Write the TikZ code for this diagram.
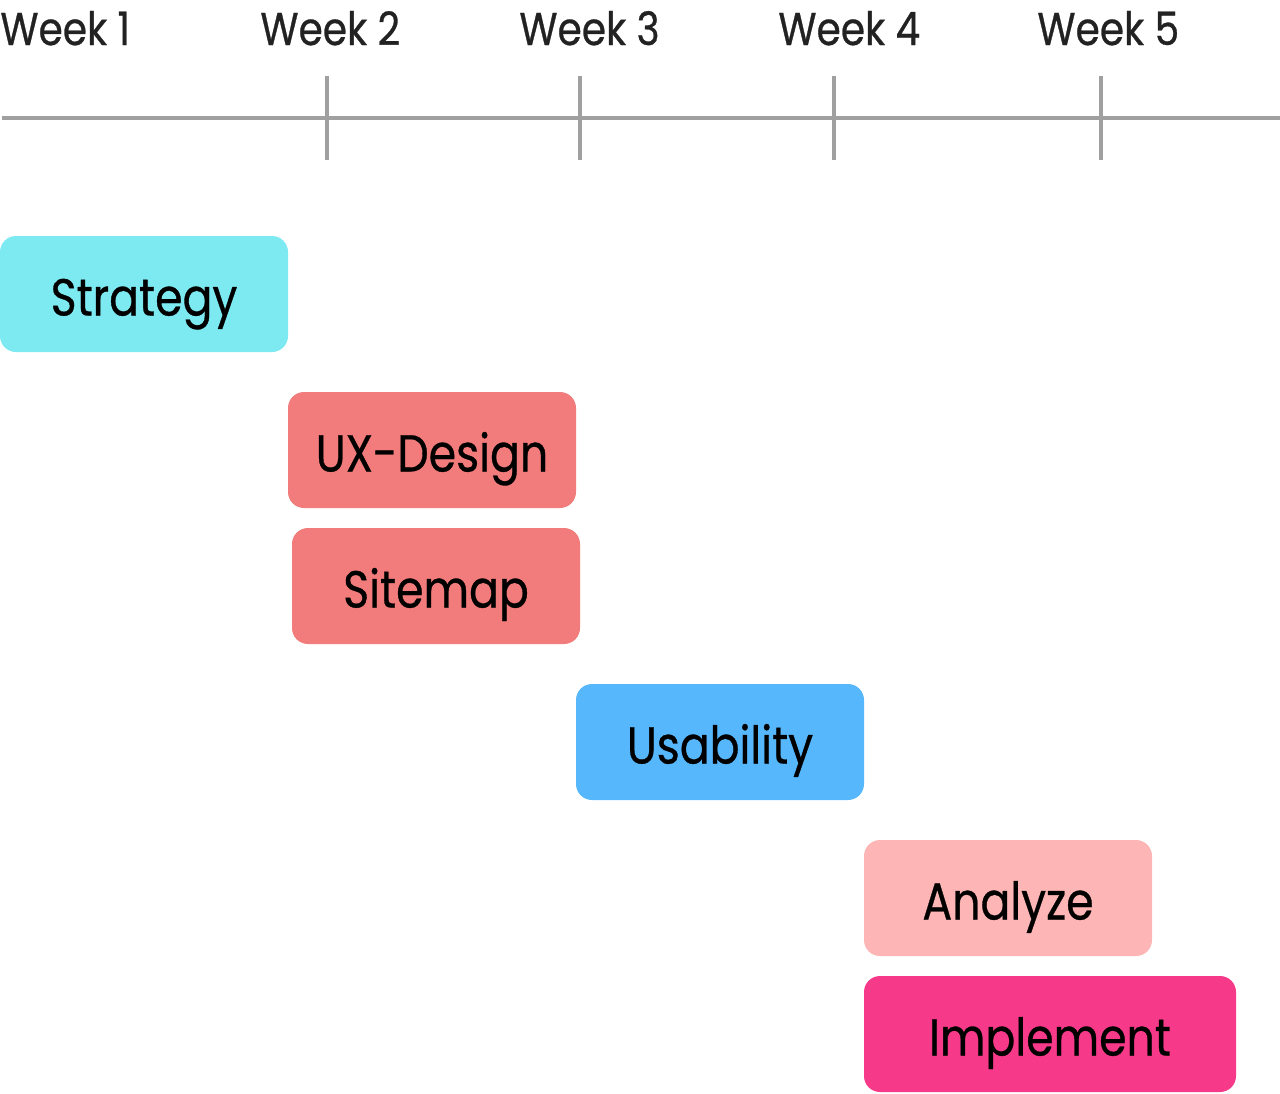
\documentclass[tikz,border=0pt]{standalone}
\usepackage{fontspec}
\setmainfont{Poppins}[FakeStretch=0.85, FakeBold=0.6]
\usepackage{tikz}
\usetikzlibrary{positioning}
\definecolor{SC}{RGB}{125,234,242}
\definecolor{RD}{RGB}{242,123,123}
\definecolor{UB}{RGB}{87,183,253}
\definecolor{PK}{RGB}{253,181,181}
\definecolor{MG}{RGB}{247,57,137}
\definecolor{AX}{RGB}{160,160,160}
\definecolor{WT}{RGB}{34,34,34}
\tikzset{
  bar/.style={rounded corners=8pt, inner sep=0pt, minimum height=58pt,
    minimum width=144pt, text height=21.5pt, text depth=0pt,
    font=\fontsize{26}{30}\selectfont, text=black},
  week/.style={anchor=base west, inner sep=0pt,
    font=\fontsize{23}{28}\selectfont, text=WT}
}

\begin{document}
\begin{tikzpicture}[x=0.5pt, y=-0.5pt]
\useasboundingbox (0,0) rectangle (1280,1093);

% Time axis
\draw[AX, line width=2pt] (2,118) -- (1280,118);
\foreach \t in {327,580,834,1101}
  \draw[AX, line width=2pt] (\t,76) -- (\t,160);

% Week labels
\node[week] (w1) at (0,45)    {Week 1};
\node[week] (w2) at (260,45)  {Week 2};
\node[week] (w3) at (519,45)  {Week 3};
\node[week] (w4) at (778,45)  {Week 4};
\node[week] (w5) at (1037,45) {Week 5};

% Bars
\node[bar, fill=SC] (strategy)  at (144,294)  {Strategy};
\node[bar, fill=RD] (uxdesign)  at (432,450)  {UX-Design};
\node[bar, fill=RD] (sitemap)   at (436,586)  {Sitemap};
\node[bar, fill=UB] (usability) at (720,742)  {Usability};
\node[bar, fill=PK] (analyze)   at (1008,898) {Analyze};
\node[bar, fill=MG, minimum width=186pt] (implement) at (1050,1034)
  {Implement};
\end{tikzpicture}
\end{document}
